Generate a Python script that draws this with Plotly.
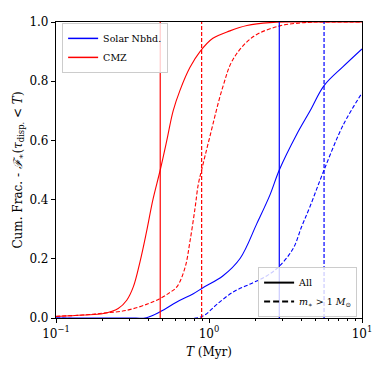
import plotly.graph_objects as go

# cumulative fraction curves
CMZ_ALL_T = [0.1, 0.15, 0.204, 0.255, 0.29, 0.32, 0.354, 0.39, 0.43, 0.48, 0.53, 0.583,
             0.647, 0.75, 0.873, 1.06, 1.37, 1.77, 2.5, 3.5, 10]
CMZ_ALL_F = [0.005, 0.01, 0.015, 0.032, 0.06, 0.105, 0.19, 0.29, 0.40, 0.50, 0.60, 0.70,
             0.77, 0.846, 0.90, 0.945, 0.97, 0.988, 0.998, 1.0, 1.0]

CMZ_HI_T = [0.1, 0.15, 0.2, 0.29, 0.4, 0.48, 0.55, 0.616, 0.697, 0.75, 0.81, 0.85, 0.895,
            1.01, 1.23, 1.44, 1.94, 2.91, 4.0, 5.0, 10]
CMZ_HI_F = [0.006, 0.01, 0.016, 0.026, 0.048, 0.066, 0.085, 0.105, 0.17, 0.257, 0.37, 0.45,
            0.50, 0.61, 0.78, 0.875, 0.95, 0.987, 0.997, 1.0, 1.0]

SOL_ALL_T = [0.1, 0.3, 0.39, 0.48, 0.616, 0.79, 0.918, 1.23, 1.6, 2.05, 2.5, 2.88, 3.74,
             4.58, 5.65, 7.55, 10]
SOL_ALL_F = [0, 0, 0.001, 0.021, 0.054, 0.082, 0.103, 0.142, 0.202, 0.318, 0.415, 0.50,
             0.62, 0.70, 0.785, 0.85, 0.909]

SOL_HI_T = [0.1, 0.85, 0.95, 1.12, 1.44, 1.86, 2.38, 2.88, 3.55, 4.04, 4.56, 5.65, 7.55, 10]
SOL_HI_F = [0, 0.001, 0.012, 0.045, 0.088, 0.115, 0.142, 0.175, 0.235, 0.31, 0.375, 0.50,
            0.653, 0.76]

# medians (vertical lines)
CMZ_MED = [0.48, 0.895]
SOL_MED = [2.88, 5.65]

RED = "#ff0000"
BLUE = "#0000ff"
DASH = "4px,2px"
FONT = "DejaVu Serif"

fig = go.Figure()


def curve(t, f, color, dash):
    fig.add_trace(go.Scatter(x=t, y=f, mode="lines", showlegend=False,
                             line=dict(color=color, width=1.1, dash=dash,
                                       shape="spline", smoothing=1.0)))


def vline(t, color, dash):
    fig.add_trace(go.Scatter(x=[t, t], y=[0, 1], mode="lines", showlegend=False,
                             line=dict(color=color, width=1.2, dash=dash)))


curve(SOL_ALL_T, SOL_ALL_F, BLUE, "solid")
curve(SOL_HI_T, SOL_HI_F, BLUE, DASH)
curve(CMZ_ALL_T, CMZ_ALL_F, RED, "solid")
curve(CMZ_HI_T, CMZ_HI_F, RED, DASH)
vline(SOL_MED[0], BLUE, "solid")
vline(SOL_MED[1], BLUE, DASH)
vline(CMZ_MED[0], RED, "solid")
vline(CMZ_MED[1], RED, DASH)

# legend entries
fig.add_trace(go.Scatter(x=[None], y=[None], mode="lines", name="Solar Nbhd.",
                         line=dict(color=BLUE, width=1.5), legend="legend"))
fig.add_trace(go.Scatter(x=[None], y=[None], mode="lines", name="CMZ",
                         line=dict(color=RED, width=1.5), legend="legend"))
fig.add_trace(go.Scatter(x=[None], y=[None], mode="lines", name="All",
                         line=dict(color="black", width=2), legend="legend2"))
fig.add_trace(go.Scatter(x=[None], y=[None], mode="lines",
                         name="<i>m</i><sub>∗</sub> > 1 <i>M</i><sub>⊙</sub>",
                         line=dict(color="black", width=2, dash="6px,3px"), legend="legend2"))

leg = dict(bgcolor="rgba(255,255,255,0.8)", bordercolor="#cccccc", borderwidth=1,
           font=dict(family=FONT, size=9.5, color="black"), itemwidth=30,
           tracegroupgap=0)

# page body has an 8px margin, so the figure is sized/offset to compensate
fig.update_layout(
    width=374, height=361,
    margin=dict(l=48, r=20, t=7, b=51),
    paper_bgcolor="white", plot_bgcolor="white",
    font=dict(family=FONT, size=12, color="black"),
    legend=dict(**leg, x=0.02, y=0.997, xanchor="left", yanchor="top"),
    legend2=dict(**leg, x=0.984, y=0.003, xanchor="right", yanchor="bottom"),
)

fig.update_xaxes(
    type="log", range=[-1, 1], showgrid=False, zeroline=False,
    showline=True, linecolor="black", linewidth=1.2, mirror=True,
    ticks="outside", ticklen=4, tickcolor="black",
    tickvals=[0.1, 1, 10],
    ticktext=["10<sup>−1</sup>", "10<sup>0</sup>", "10<sup>1</sup>"],
    minor=dict(ticks="outside", ticklen=2, tickcolor="black",
               tickvals=[0.2, 0.3, 0.4, 0.5, 0.6, 0.7, 0.8, 0.9,
                         2, 3, 4, 5, 6, 7, 8, 9]),
    title=dict(text="<i>T</i> (Myr)", standoff=8, font=dict(size=12)),
)
fig.update_yaxes(
    range=[0, 1], showgrid=False, zeroline=False,
    showline=True, linecolor="black", linewidth=1.2, mirror=True,
    ticks="outside", ticklen=4, tickcolor="black",
    tickvals=[0, 0.2, 0.4, 0.6, 0.8, 1.0], tickformat=".1f",
    title=dict(text="Cum. Frac. - <i>ℱ</i><sub>∗</sub>(<i>τ</i><sub>disp.</sub> < <i>T</i>)",
               standoff=4, font=dict(size=12)),
)

fig.write_html("out.html")
